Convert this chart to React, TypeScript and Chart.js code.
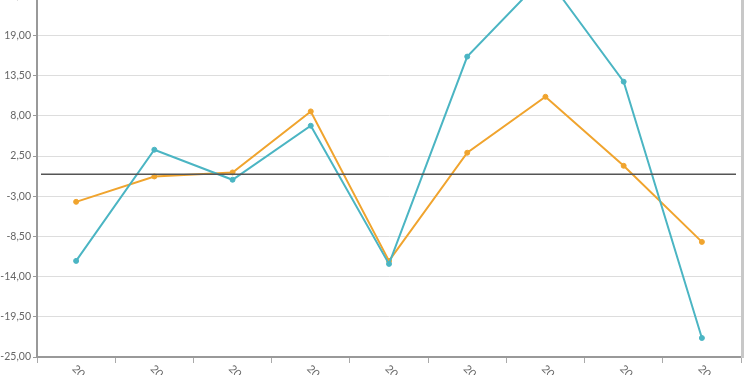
import React, { useEffect, useRef } from "react";
import { Chart, registerables } from "chart.js";

Chart.register(...registerables);

const categories = ["2010", "2011", "2012", "2013", "2014", "2015", "2016", "2017", "2018"];
const seriesBlue = [-11.85, 3.36, -0.75, 6.64, -12.26, 16.1, 27.2, 12.67, -22.4];
const seriesOrange = [-3.77, -0.3, 0.25, 8.6, -11.85, 2.95, 10.6, 1.16, -9.25];
const yMin = -25;
const yMax = 30;
const yStep = 5.5;

const fmt = (v: number) => v.toFixed(2).replace(".", ",");
const FONT = "Lato, 'DejaVu Sans', sans-serif";

const extrasPlugin = {
  id: "extras",
  afterDatasetsDraw(chart: any) {
    const { ctx, chartArea, scales } = chart;
    const y0 = scales.y.getPixelForValue(0);
    ctx.save();
    ctx.strokeStyle = "#555555";
    ctx.lineWidth = 1.5;
    ctx.beginPath();
    ctx.moveTo(chartArea.left + 4, y0);
    ctx.lineTo(chartArea.right - 5, y0);
    ctx.stroke();
    ctx.restore();
  },
  afterDraw(chart: any) {
    const { ctx, chartArea, scales } = chart;
    ctx.save();
    ctx.strokeStyle = "#c8c8c8";
    ctx.lineWidth = 3;
    ctx.beginPath();
    ctx.moveTo(chartArea.right + 1.5, chartArea.top);
    ctx.lineTo(chartArea.right + 1.5, chartArea.bottom + 1);
    ctx.stroke();
    ctx.fillStyle = "#666666";
    ctx.font = "11px " + FONT;
    ctx.textAlign = "left";
    ctx.textBaseline = "middle";
    categories.forEach((c, i) => {
      const x = scales.x.getPixelForValue(i);
      ctx.save();
      ctx.translate(x - 2, chartArea.bottom + 10);
      ctx.rotate(Math.PI / 4);
      ctx.fillText(c, 0, 0);
      ctx.restore();
    });
    ctx.restore();
  },
};

export default function App() {
  const ref = useRef<HTMLCanvasElement | null>(null);
  useEffect(() => {
    if (!ref.current) return;
    const chart = new Chart(ref.current, {
      type: "line",
      data: {
        labels: categories,
        datasets: [
          {
            data: seriesBlue,
            borderColor: "#4bb5c3",
            backgroundColor: "#4bb5c3",
            borderWidth: 2,
            pointRadius: 2.5,
            pointBorderWidth: 1,
            pointHoverRadius: 2.5,
            tension: 0,
          },
          {
            data: seriesOrange,
            borderColor: "#f0a42e",
            backgroundColor: "#f0a42e",
            borderWidth: 2,
            pointRadius: 2.5,
            pointBorderWidth: 1,
            pointHoverRadius: 2.5,
            tension: 0,
          },
        ],
      },
      options: {
        responsive: false,
        animation: false,
        layout: { padding: { top: 15, right: 9, bottom: 0, left: 0 } },
        plugins: { legend: { display: false }, tooltip: { enabled: false } },
        scales: {
          x: {
            type: "category",
            offset: true,
            grid: {
              offset: true,
              drawOnChartArea: false,
              tickLength: 6,
              color: "#aaaaaa",
            },
            border: { color: "#999999", width: 2 },
            ticks: { display: false },
            afterFit: (s: any) => {
              s.height = 63;
            },
          },
          y: {
            min: yMin,
            max: yMax,
            grid: { color: "#dddddd", tickLength: 4, tickColor: "#999999" },
            border: { color: "#999999", width: 2 },
            ticks: {
              stepSize: yStep,
              padding: 2,
              color: "#666666",
              font: { size: 10.5, family: FONT },
              callback: (v: any) => fmt(Number(v)),
            },
            afterFit: (s: any) => {
              s.width = 37;
            },
          },
        },
      },
      plugins: [extrasPlugin],
    });
    return () => chart.destroy();
  }, []);
  return (
    <div style={{ position: "fixed", left: 0, top: -60, width: 750, height: 480, background: "#fff" }}>
      <canvas ref={ref} width={750} height={480} style={{ display: "block" }} />
    </div>
  );
}
